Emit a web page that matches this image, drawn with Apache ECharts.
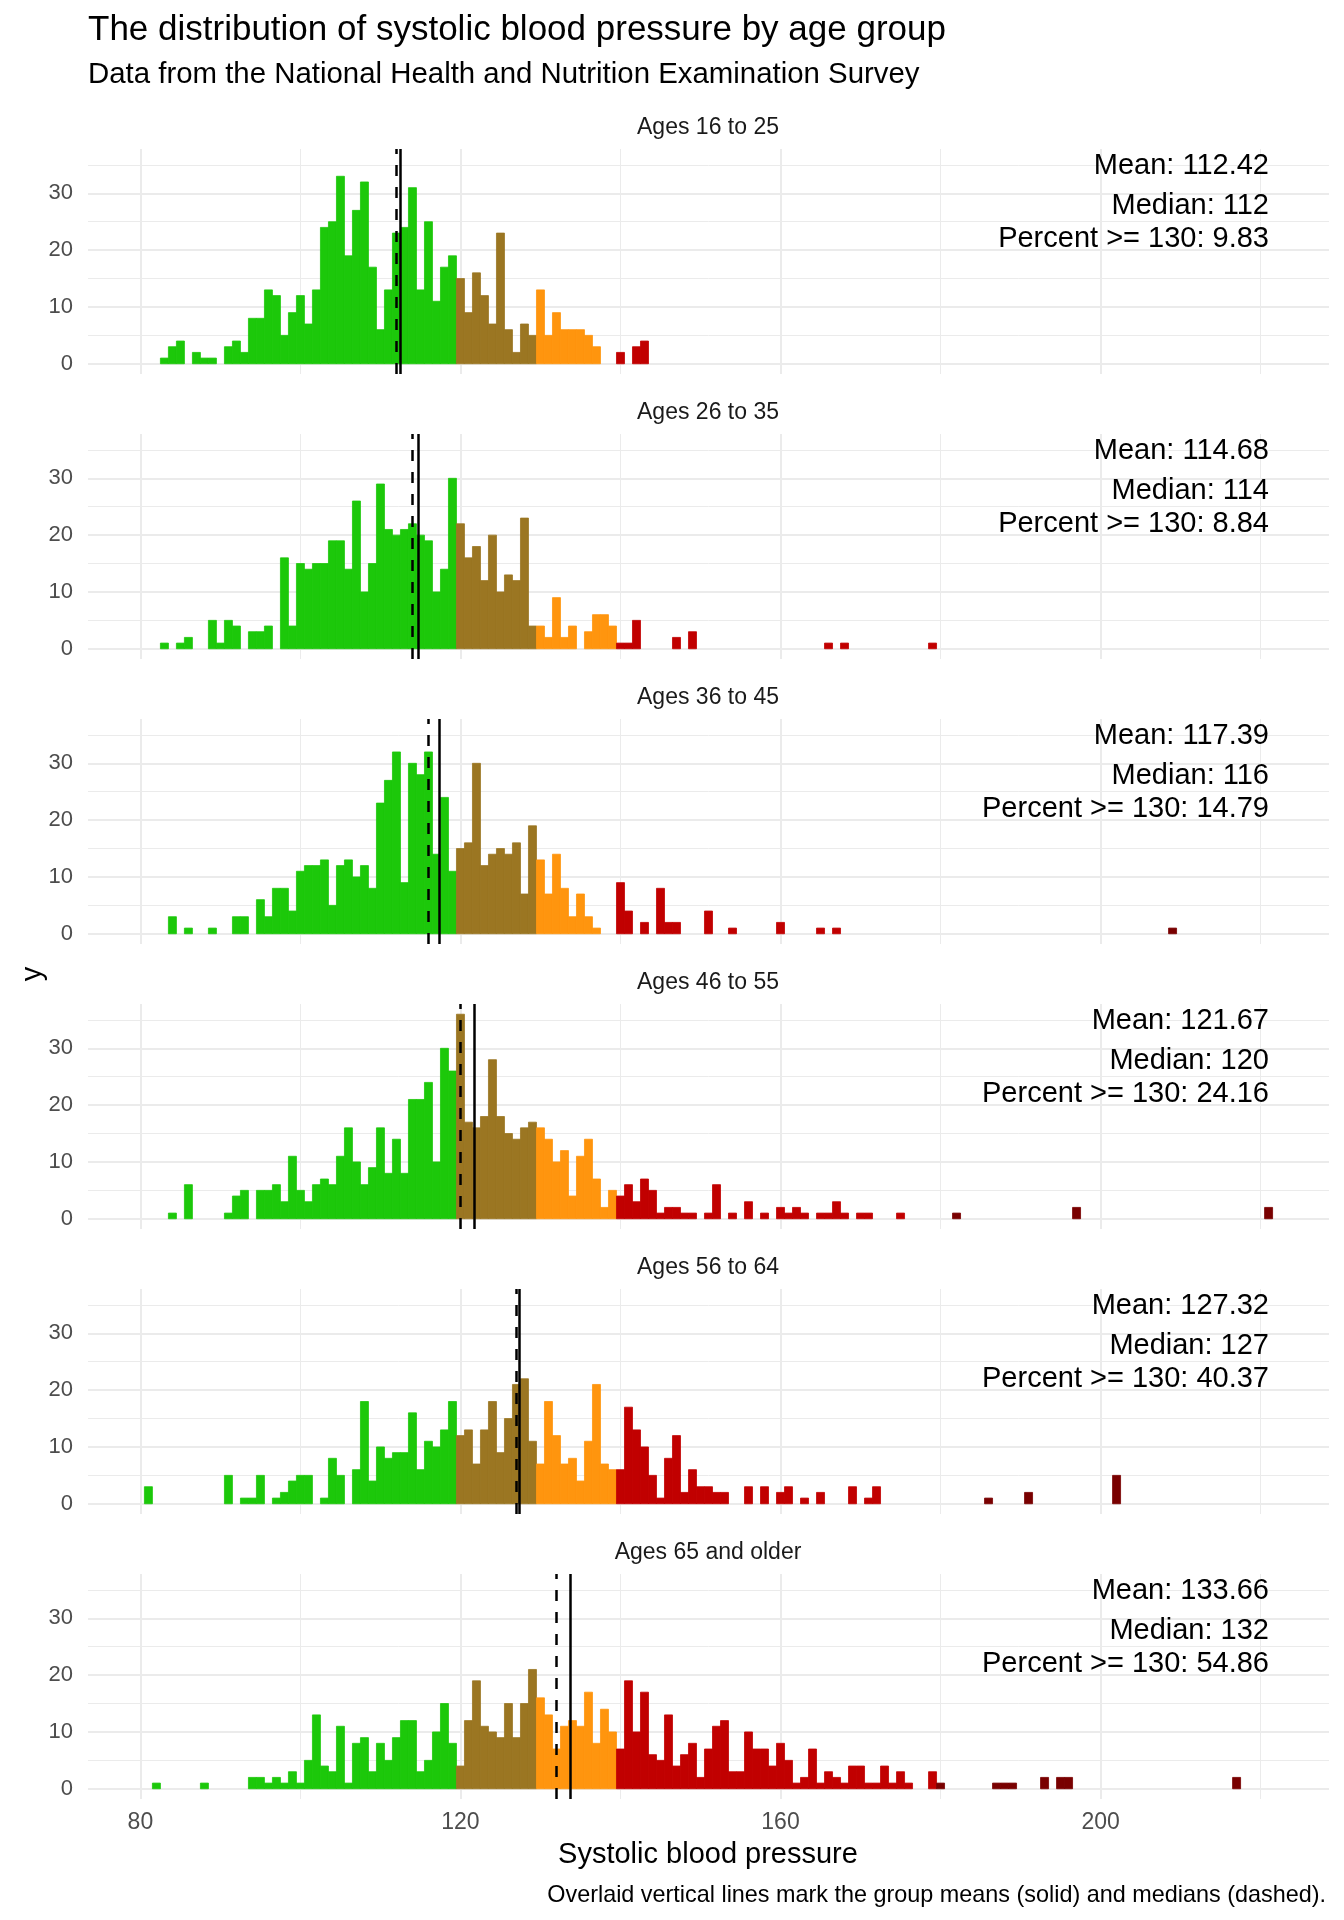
<!DOCTYPE html>
<html>
<head>
<meta charset="utf-8">
<title>Systolic blood pressure by age group</title>
<script src="https://cdn.jsdelivr.net/npm/echarts@6/dist/echarts.min.js"></script>
<style>
  html, body { margin: 0; padding: 0; background: #ffffff; }
  #chart { width: 1344px; height: 1920px; }
</style>
</head>
<body>
<div id="chart"></div>
<script>
// histogram counts, one bin per mmHg, each array starts at its binStart
const panelLabels = ['Ages 16 to 25', 'Ages 26 to 35', 'Ages 36 to 45', 'Ages 46 to 55', 'Ages 56 to 64', 'Ages 65 and older'];
const binStarts = [83, 83, 84, 84, 81, 82];

const counts16to25 = [
  1, 3, 4, 0, 2, 1, 1, 0, 3, 4,
  2, 8, 8, 13, 12, 5, 9, 12, 7, 13,
  24, 25, 33, 19, 27, 32, 17, 6, 13, 23,
  24, 31, 13, 25, 11, 17, 19, 15, 9, 16,
  12, 7, 23, 6, 2, 7, 5, 13, 5, 9,
  6, 6, 6, 5, 3, 0, 0, 2, 0, 3,
  4
];
const counts26to35 = [
  1, 0, 1, 2, 0, 0, 5, 1, 5, 4,
  0, 3, 3, 4, 0, 16, 4, 15, 14, 15,
  15, 19, 19, 14, 26, 10, 15, 29, 21, 20,
  21, 22, 20, 19, 10, 14, 30, 22, 16, 18,
  12, 20, 10, 13, 12, 23, 4, 4, 2, 9,
  2, 4, 0, 3, 6, 6, 4, 1, 1, 5,
  0, 0, 0, 0, 2, 0, 3, 0, 0, 0,
  0, 0, 0, 0, 0, 0, 0, 0, 0, 0,
  0, 0, 0, 1, 0, 1, 0, 0, 0, 0,
  0, 0, 0, 0, 0, 0, 1
];
const counts36to45 = [
  3, 0, 1, 0, 0, 1, 0, 0, 3, 3,
  0, 6, 3, 8, 8, 4, 11, 12, 12, 13,
  5, 12, 13, 10, 12, 8, 23, 27, 32, 9,
  30, 28, 32, 14, 24, 11, 15, 16, 30, 12,
  14, 15, 14, 16, 7, 19, 13, 7, 14, 8,
  3, 7, 3, 1, 0, 0, 9, 4, 0, 2,
  0, 8, 2, 2, 0, 0, 0, 4, 0, 0,
  1, 0, 0, 0, 0, 0, 2, 0, 0, 0,
  0, 1, 0, 1, 0, 0, 0, 0, 0, 0,
  0, 0, 0, 0, 0, 0, 0, 0, 0, 0,
  0, 0, 0, 0, 0, 0, 0, 0, 0, 0,
  0, 0, 0, 0, 0, 0, 0, 0, 0, 0,
  0, 0, 0, 0, 0, 1
];
const counts46to55 = [
  1, 0, 6, 0, 0, 0, 0, 1, 4, 5,
  0, 5, 5, 6, 3, 11, 5, 3, 6, 7,
  6, 11, 16, 10, 6, 9, 16, 8, 14, 8,
  21, 21, 24, 10, 30, 26, 36, 17, 16, 18,
  28, 18, 15, 14, 16, 17, 16, 14, 10, 12,
  4, 11, 14, 7, 2, 5, 4, 6, 3, 7,
  5, 1, 2, 2, 1, 1, 0, 1, 6, 0,
  1, 0, 3, 0, 1, 0, 2, 1, 2, 1,
  0, 1, 1, 3, 1, 0, 1, 1, 0, 0,
  0, 1, 0, 0, 0, 0, 0, 0, 1, 0,
  0, 0, 0, 0, 0, 0, 0, 0, 0, 0,
  0, 0, 0, 2, 0, 0, 0, 0, 0, 0,
  0, 0, 0, 0, 0, 0, 0, 0, 0, 0,
  0, 0, 0, 0, 0, 0, 0, 2
];
const counts56to64 = [
  3, 0, 0, 0, 0, 0, 0, 0, 0, 0,
  5, 0, 1, 1, 5, 0, 1, 2, 4, 5,
  5, 0, 1, 8, 5, 0, 6, 18, 4, 10,
  8, 9, 9, 16, 6, 11, 10, 13, 18, 12,
  13, 7, 13, 18, 9, 15, 21, 22, 11, 7,
  18, 12, 7, 8, 4, 11, 21, 7, 6, 6,
  17, 13, 10, 5, 1, 8, 12, 2, 6, 3,
  3, 2, 2, 0, 0, 3, 0, 3, 0, 2,
  3, 0, 1, 0, 2, 0, 0, 0, 3, 0,
  1, 3, 0, 0, 0, 0, 0, 0, 0, 0,
  0, 0, 0, 0, 0, 1, 0, 0, 0, 0,
  2, 0, 0, 0, 0, 0, 0, 0, 0, 0,
  0, 5
];
const counts65plus = [
  1, 0, 0, 0, 0, 0, 1, 0, 0, 0,
  0, 0, 2, 2, 1, 2, 1, 3, 1, 5,
  13, 4, 3, 11, 1, 8, 9, 3, 8, 5,
  9, 12, 12, 3, 5, 10, 15, 8, 4, 12,
  19, 11, 10, 9, 15, 9, 15, 21, 16, 13,
  7, 11, 12, 11, 17, 8, 14, 10, 7, 19,
  10, 17, 6, 5, 13, 4, 6, 8, 2, 7,
  11, 12, 3, 3, 10, 7, 7, 4, 8, 5,
  1, 2, 7, 1, 3, 2, 1, 4, 4, 1,
  1, 4, 1, 3, 1, 0, 0, 3, 1, 0,
  0, 0, 0, 0, 0, 1, 1, 1, 0, 0,
  0, 2, 0, 2, 2, 0, 0, 0, 0, 0,
  0, 0, 0, 0, 0, 0, 0, 0, 0, 0,
  0, 0, 0, 0, 0, 2
];
const panelCounts = [counts16to25, counts26to35, counts36to45, counts46to55, counts56to64, counts65plus];

const meanValues = [112.42, 114.68, 117.39, 121.67, 127.32, 133.66];
const medianValues = [112, 114, 116, 120, 127, 132];
const pctOver130 = ['9.83', '8.84', '14.79', '24.16', '40.37', '54.86'];

const xMajorTicks = [80, 120, 160, 200];
const xMinorTicks = [100, 140, 180, 220];
const yMajorTicks = [0, 10, 20, 30];
const yMinorTicks = [5, 15, 25, 35];

// bp class breaks and fills
const classBreaks = [120, 130, 140, 180];
const classColors = ['#1cc80a', '#9b7622', '#ff950e', '#c10000', '#790000'];

const FONT = '"Liberation Sans", Arial, Helvetica, sans-serif';
const xMin = 73.45, xMax = 228.55;
const yMin = -1.8, yMax = 37.8;
const gridLeft = 88, gridRight = 15;
const panelTop0 = 149, panelStep = 285, panelHeight = 225;
const gridColor = '#ebebeb';

function classColor(bp) {
    let k = 0;
    while (k < classBreaks.length && bp >= classBreaks[k]) k++;
    return classColors[k];
}

function renderBin(params, api) {
    const bp = api.value(0);
    const n = api.value(1);
    if (!n) return null;
    const p0 = api.coord([bp - 0.5, 0]);
    const p1 = api.coord([bp + 0.5, n]);
    const c = classColor(bp);
    return {
        type: 'rect',
        shape: { x: p0[0], y: p1[1], width: p1[0] - p0[0], height: p0[1] - p1[1] },
        style: { fill: c, stroke: c, lineWidth: 0.8 }
    };
}

const grids = [], xAxes = [], yAxes = [], series = [], graphics = [];

panelCounts.forEach((counts, i) => {
    const top = panelTop0 + panelStep * i;
    const isLast = i === panelCounts.length - 1;
    grids.push({ left: gridLeft, right: gridRight, top: top, height: panelHeight });

    // major + minor x axes (minor only for its grid lines)
    xAxes.push({
        gridIndex: i, type: 'value', min: xMin, max: xMax,
        axisLine: { show: false },
        axisTick: { show: false, customValues: xMajorTicks },
        axisLabel: {
            show: isLast, customValues: xMajorTicks, margin: 12,
            color: '#4d4d4d', fontSize: 23, fontFamily: FONT
        },
        splitLine: { show: true, lineStyle: { color: gridColor, width: 2 } }
    });
    xAxes.push({
        gridIndex: i, type: 'value', min: xMin, max: xMax,
        axisLine: { show: false },
        axisTick: { show: false, customValues: xMinorTicks },
        axisLabel: { show: false },
        splitLine: { show: true, lineStyle: { color: gridColor, width: 1 } }
    });
    yAxes.push({
        gridIndex: i, type: 'value', min: yMin, max: yMax,
        axisLine: { show: false },
        axisTick: { show: false, customValues: yMajorTicks },
        axisLabel: {
            customValues: yMajorTicks, margin: 15,
            color: '#4d4d4d', fontSize: 22, fontFamily: FONT
        },
        splitLine: { show: true, lineStyle: { color: gridColor, width: 2 } }
    });
    yAxes.push({
        gridIndex: i, type: 'value', min: yMin, max: yMax,
        axisLine: { show: false },
        axisTick: { show: false, customValues: yMinorTicks },
        axisLabel: { show: false },
        splitLine: { show: true, lineStyle: { color: gridColor, width: 1 } }
    });

    const data = counts.map((n, k) => [binStarts[i] + k, n]);
    series.push({
        type: 'custom',
        name: panelLabels[i],
        xAxisIndex: 2 * i, yAxisIndex: 2 * i,
        renderItem: renderBin,
        encode: { x: 0, y: 1 },
        data: data,
        z: 2
    });

    series.push({
        type: 'line',
        xAxisIndex: 2 * i, yAxisIndex: 2 * i,
        data: [],
        z: 5,
        markLine: {
            silent: true,
            symbol: ['none', 'none'],
            label: { show: false },
            lineStyle: { color: '#000000', width: 2.5 },
            data: [
                { xAxis: meanValues[i], lineStyle: { type: 'solid', color: '#000000', width: 2.5 } },
                { xAxis: medianValues[i], lineStyle: { type: [11, 11], color: '#000000', width: 2.5 } }
            ]
        }
    });

    // strip label
    graphics.push({
        type: 'text', x: 708, y: top - 21,
        style: { text: panelLabels[i], font: '23px ' + FONT, fill: '#1a1a1a', align: 'center', verticalAlign: 'middle' }
    });
    // summary text
    const lines = ['Mean: ' + meanValues[i], 'Median: ' + medianValues[i], 'Percent >= 130: ' + pctOver130[i]];
    const offsets = [17, 57, 90];
    lines.forEach((t, j) => {
        graphics.push({
            type: 'text', x: 1269, y: top + offsets[j], z: 10,
            style: { text: t, font: '29px ' + FONT, fill: '#000000', align: 'right', verticalAlign: 'middle' }
        });
    });
});

graphics.push(
    { type: 'text', x: 88, y: 30,
      style: { text: 'The distribution of systolic blood pressure by age group', font: '35px ' + FONT, fill: '#000000', align: 'left', verticalAlign: 'middle' } },
    { type: 'text', x: 88, y: 75,
      style: { text: 'Data from the National Health and Nutrition Examination Survey', font: '29.4px ' + FONT, fill: '#000000', align: 'left', verticalAlign: 'middle' } },
    { type: 'text', x: 708, y: 1855,
      style: { text: 'Systolic blood pressure', font: '29px ' + FONT, fill: '#000000', align: 'center', verticalAlign: 'middle' } },
    { type: 'text', x: 1326, y: 1896,
      style: { text: 'Overlaid vertical lines mark the group means (solid) and medians (dashed).', font: '23.4px ' + FONT, fill: '#000000', align: 'right', verticalAlign: 'middle' } },
    { type: 'text', x: 33, y: 974, rotation: Math.PI / 2,
      style: { text: 'y', font: '29px ' + FONT, fill: '#000000', align: 'center', verticalAlign: 'middle' } }
);

const chart = echarts.init(document.getElementById('chart'), null, { renderer: 'canvas' });
chart.setOption({
    backgroundColor: '#ffffff',
    animation: false,
    grid: grids,
    xAxis: xAxes,
    yAxis: yAxes,
    series: series,
    graphic: graphics
});
</script>
</body>
</html>
